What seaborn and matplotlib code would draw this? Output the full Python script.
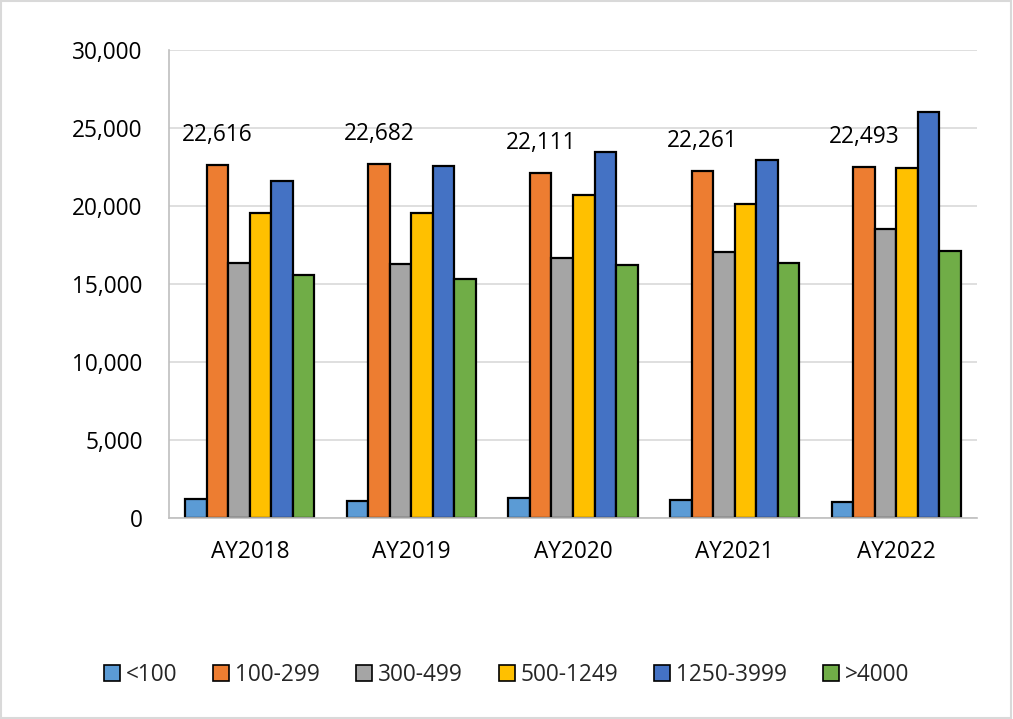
import seaborn as sns
import matplotlib.pyplot as plt
import pandas as pd
from matplotlib.patches import Rectangle

years = ["AY2018", "AY2019", "AY2020", "AY2021", "AY2022"]
groups = ["<100", "100-299", "300-499", "500-1249", "1250-3999", ">4000"]
colors = ["#5B9BD5", "#ED7D31", "#A5A5A5", "#FFC000", "#4472C4", "#70AD47"]

lt100 = [1220, 1110, 1260, 1170, 1000]
r100_299 = [22616, 22682, 22111, 22261, 22493]
r300_499 = [16330, 16260, 16650, 17050, 18530]
r500_1249 = [19530, 19550, 20680, 20130, 22460]
r1250_3999 = [21600, 22560, 23480, 22950, 26000]
gt4000 = [15580, 15300, 16240, 16350, 17130]

series = [lt100, r100_299, r300_499, r500_1249, r1250_3999, gt4000]
rows = []
for g, vals in zip(groups, series):
    for y, v in zip(years, vals):
        rows.append({"Year": y, "Group": g, "Count": v})
df = pd.DataFrame(rows)

sns.set_theme(style="white")
plt.rcParams["font.family"] = ["Open Sans", "DejaVu Sans"]
fs = 16.3

fig = plt.figure(figsize=(10.13, 7.19), dpi=100)
ax = fig.add_axes([0.1668, 0.2796, 0.7977, 0.6509])

sns.barplot(data=df, x="Year", y="Count", hue="Group", order=years, hue_order=groups,
            palette=colors, edgecolor="black", linewidth=1.6, saturation=1.0,
            width=0.8, ax=ax, legend=True)

ax.set_ylim(0, 30000)
ax.set_yticks(range(0, 30001, 5000))
ax.set_yticklabels([f"{v:,}" for v in range(0, 30001, 5000)])
ax.yaxis.grid(True, color="#D9D9D9", linewidth=1.2)
ax.set_axisbelow(True)
ax.set_xlabel("")
ax.set_ylabel("")
for s in ["top", "right"]:
    ax.spines[s].set_visible(False)
for s in ["left", "bottom"]:
    ax.spines[s].set_color("#BFBFBF")
    ax.spines[s].set_linewidth(1.2)
ax.tick_params(axis="y", length=0, pad=19, labelsize=fs, labelcolor="black")
ax.tick_params(axis="x", length=0, pad=16, labelsize=fs, labelcolor="black")

# 标注 100-299 组的数值
ax.bar_label(ax.containers[1], labels=[f"{v:,}" for v in r100_299],
             padding=13, fontsize=fs, color="black")

handles, labels = ax.get_legend_handles_labels()
ax.get_legend().remove()
for h in handles:
    h.set_edgecolor("black")
    h.set_linewidth(1.2)
fig.legend(handles, labels, loc="center", bbox_to_anchor=(0.5, 0.061), ncol=6,
           frameon=False, fontsize=fs, handlelength=0.7, handleheight=0.7,
           handletextpad=0.25, columnspacing=1.6)

fig.patches.append(Rectangle((0.001, 0.002), 0.997, 0.996, transform=fig.transFigure,
                             fill=False, edgecolor="#D9D9D9", linewidth=1.5))

plt.savefig("out.png", dpi=100)
